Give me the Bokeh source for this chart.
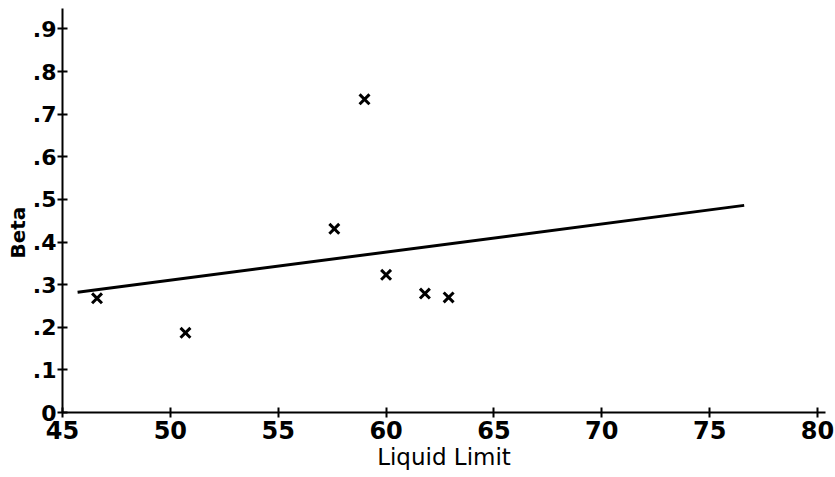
from bokeh.plotting import figure
from bokeh.models import Range1d, FixedTicker, Title
from bokeh.embed import file_html
from bokeh.resources import INLINE

# Data
liquid_limit = [46.6, 50.7, 57.6, 59.0, 60.0, 61.8, 62.9]
beta = [0.268, 0.187, 0.431, 0.735, 0.323, 0.279, 0.270]

fit_x = [45.7, 76.6]
fit_y = [0.282, 0.486]

x_ticks = [45, 50, 55, 60, 65, 70, 75, 80]
y_ticks = [0, 0.1, 0.2, 0.3, 0.4, 0.5, 0.6, 0.7, 0.8, 0.9]
y_tick_labels = ["0", ".1", ".2", ".3", ".4", ".5", ".6", ".7", ".8", ".9"]

FONT = "DejaVu Sans"

p = figure(width=835, height=477, output_backend="svg", toolbar_location=None,
           x_range=Range1d(45, 80.37), y_range=Range1d(0, 0.948),
           min_border_left=62, min_border_right=10, min_border_top=8,
           min_border_bottom=65)
p.outline_line_color = None
p.xgrid.grid_line_color = None
p.ygrid.grid_line_color = None
p.background_fill_color = "white"

p.line(fit_x, fit_y, line_color="black", line_width=3)
p.scatter(liquid_limit, beta, marker="x", size=14, line_color="black", line_width=3)

for ax in (p.xaxis[0], p.yaxis[0]):
    ax.axis_line_color = "black"
    ax.axis_line_width = 2
    ax.major_tick_line_color = "black"
    ax.major_tick_line_width = 2
    ax.major_tick_in = 5
    ax.major_tick_out = 5
    ax.minor_tick_line_color = None
    ax.major_label_text_font = FONT
    ax.major_label_text_font_style = "bold"
    ax.major_label_text_color = "black"

p.xaxis.ticker = FixedTicker(ticks=x_ticks)
p.xaxis.major_label_text_font_size = "24px"
p.xaxis.major_label_standoff = 3
p.xaxis.axis_label = "Liquid Limit"
p.xaxis.axis_label_text_font = FONT
p.xaxis.axis_label_text_font_style = "normal"
p.xaxis.axis_label_text_font_size = "23px"
p.xaxis.axis_label_text_color = "black"
p.xaxis.axis_label_standoff = 2

p.yaxis.ticker = FixedTicker(ticks=y_ticks)
p.yaxis.major_label_overrides = {t: l for t, l in zip(y_ticks, y_tick_labels)}
p.yaxis.major_label_text_font_size = "22px"
p.yaxis.major_label_standoff = 1

beta_title = Title(text="Beta", align="left", offset=154, standoff=0,
                   text_font=FONT, text_font_style="bold", text_font_size="20px",
                   text_color="black")
p.add_layout(beta_title, "left")

open("out.html", "w").write(file_html(p, INLINE))
